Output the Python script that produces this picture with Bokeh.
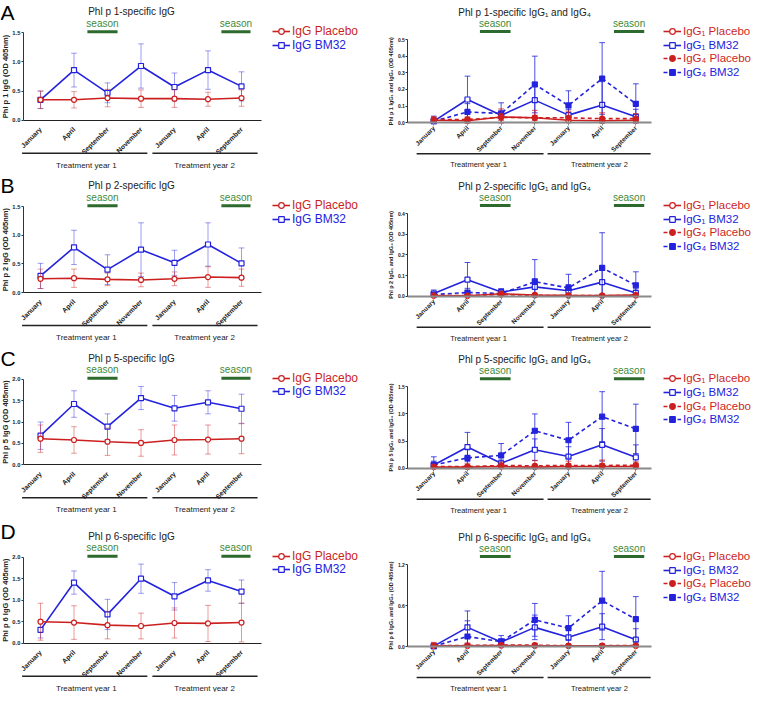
import math
from bokeh.plotting import figure
from bokeh.models import (ColumnDataSource, Label, Legend, LegendItem,
                          FixedTicker, Range1d, NumeralTickFormatter)
from bokeh.layouts import column, row
from bokeh.embed import file_html
from bokeh.resources import INLINE

# ---------------- data ----------------
months = ["January", "April", "September", "November", "January", "April", "September"]
x_idx = [0, 1, 2, 3, 4, 5, 6]
years = ["Treatment year 1", "Treatment year 2"]
letters = ["A", "B", "C", "D"]
allergens = ["Phl p 1", "Phl p 2", "Phl p 5", "Phl p 6"]

# IgG (left column): mean and SD
A_igg_bm32 = [0.35, 0.86, 0.47, 0.93, 0.57, 0.86, 0.58]
A_igg_bm32_sd = [0.15, 0.29, 0.17, 0.38, 0.24, 0.33, 0.25]
A_igg_pla = [0.35, 0.35, 0.38, 0.37, 0.37, 0.36, 0.38]
A_igg_pla_sd = [0.15, 0.14, 0.15, 0.15, 0.15, 0.12, 0.14]

B_igg_bm32 = [0.29, 0.79, 0.40, 0.75, 0.52, 0.84, 0.51]
B_igg_bm32_sd = [0.22, 0.30, 0.26, 0.47, 0.22, 0.38, 0.27]
B_igg_pla = [0.24, 0.25, 0.23, 0.22, 0.24, 0.27, 0.26]
B_igg_pla_sd = [0.17, 0.16, 0.11, 0.12, 0.12, 0.18, 0.15]

C_igg_bm32 = [0.68, 1.42, 0.89, 1.56, 1.32, 1.46, 1.31]
C_igg_bm32_sd = [0.32, 0.31, 0.30, 0.27, 0.30, 0.27, 0.34]
C_igg_pla = [0.61, 0.58, 0.54, 0.51, 0.58, 0.59, 0.61]
C_igg_pla_sd = [0.32, 0.31, 0.32, 0.31, 0.35, 0.34, 0.35]

D_igg_bm32 = [0.31, 1.41, 0.67, 1.50, 1.09, 1.46, 1.20]
D_igg_bm32_sd = [0.19, 0.27, 0.35, 0.34, 0.32, 0.25, 0.27]
D_igg_pla = [0.50, 0.48, 0.42, 0.40, 0.47, 0.46, 0.48]
D_igg_pla_sd = [0.43, 0.39, 0.32, 0.30, 0.35, 0.42, 0.45]

# IgG1 / IgG4 (right column): mean and SD
A_g1_pla = [0.015, 0.012, 0.035, 0.030, 0.015, 0.012, 0.015]
A_g1_pla_sd = [0.012, 0.015, 0.020, 0.015, 0.012, 0.012, 0.012]
A_g1_bm32 = [0.010, 0.140, 0.045, 0.136, 0.046, 0.107, 0.036]
A_g1_bm32_sd = [0.030, 0.140, 0.020, 0.108, 0.035, 0.140, 0.045]
A_g4_pla = [0.020, 0.020, 0.033, 0.030, 0.030, 0.025, 0.025]
A_g4_pla_sd = [0.015, 0.015, 0.050, 0.045, 0.040, 0.035, 0.030]
A_g4_bm32 = [0.010, 0.065, 0.056, 0.230, 0.104, 0.266, 0.114]
A_g4_bm32_sd = [0.020, 0.050, 0.064, 0.170, 0.088, 0.215, 0.120]

B_g1_pla = [0.003, 0.002, 0.012, 0.006, 0.004, 0.003, 0.005]
B_g1_pla_sd = [0.003, 0.002, 0.006, 0.004, 0.003, 0.002, 0.003]
B_g1_bm32 = [0.013, 0.080, 0.020, 0.045, 0.026, 0.068, 0.016]
B_g1_bm32_sd = [0.017, 0.083, 0.017, 0.040, 0.030, 0.060, 0.020]
B_g4_pla = [0.003, 0.003, 0.008, 0.004, 0.003, 0.003, 0.004]
B_g4_pla_sd = [0.002, 0.002, 0.005, 0.003, 0.002, 0.002, 0.003]
B_g4_bm32 = [0.008, 0.018, 0.013, 0.070, 0.040, 0.137, 0.053]
B_g4_bm32_sd = [0.010, 0.020, 0.012, 0.107, 0.066, 0.170, 0.065]

C_g1_pla = [0.02, 0.02, 0.03, 0.02, 0.03, 0.03, 0.03]
C_g1_pla_sd = [0.03, 0.03, 0.04, 0.05, 0.05, 0.05, 0.05]
C_g1_bm32 = [0.06, 0.39, 0.09, 0.34, 0.215, 0.43, 0.20]
C_g1_bm32_sd = [0.07, 0.27, 0.06, 0.20, 0.18, 0.30, 0.23]
C_g4_pla = [0.03, 0.03, 0.05, 0.045, 0.05, 0.05, 0.055]
C_g4_pla_sd = [0.04, 0.05, 0.06, 0.10, 0.08, 0.10, 0.06]
C_g4_bm32 = [0.06, 0.19, 0.235, 0.69, 0.515, 0.95, 0.725]
C_g4_bm32_sd = [0.15, 0.16, 0.22, 0.31, 0.33, 0.46, 0.455]

D_g1_pla = [0.010, 0.010, 0.015, 0.012, 0.010, 0.010, 0.010]
D_g1_pla_sd = [0.05, 0.04, 0.03, 0.03, 0.02, 0.02, 0.02]
D_g1_bm32 = [0.005, 0.28, 0.065, 0.28, 0.135, 0.29, 0.10]
D_g1_bm32_sd = [0.01, 0.24, 0.05, 0.18, 0.13, 0.19, 0.16]
D_g4_pla = [0.015, 0.015, 0.020, 0.020, 0.012, 0.012, 0.015]
D_g4_pla_sd = [0.010, 0.010, 0.010, 0.010, 0.008, 0.008, 0.010]
D_g4_bm32 = [0.005, 0.146, 0.07, 0.39, 0.27, 0.67, 0.40]
D_g4_bm32_sd = [0.01, 0.23, 0.09, 0.24, 0.18, 0.43, 0.33]

left_ymax = [1.5, 1.5, 2.0, 2.0]
left_ticks = [[0, 0.5, 1.0, 1.5], [0, 0.5, 1.0, 1.5], [0, 0.5, 1.0, 1.5, 2.0], [0, 0.5, 1.0, 1.5, 2.0]]
right_ymax = [0.5, 0.4, 1.5, 1.2]
right_ticks = [[0, 0.1, 0.2, 0.3, 0.4, 0.5], [0, 0.1, 0.2, 0.3, 0.4], [0, 0.5, 1.0, 1.5], [0, 0.6, 1.2]]

left_data = [
    (A_igg_pla, A_igg_pla_sd, A_igg_bm32, A_igg_bm32_sd),
    (B_igg_pla, B_igg_pla_sd, B_igg_bm32, B_igg_bm32_sd),
    (C_igg_pla, C_igg_pla_sd, C_igg_bm32, C_igg_bm32_sd),
    (D_igg_pla, D_igg_pla_sd, D_igg_bm32, D_igg_bm32_sd),
]
right_data = [
    (A_g1_pla, A_g1_pla_sd, A_g1_bm32, A_g1_bm32_sd, A_g4_pla, A_g4_pla_sd, A_g4_bm32, A_g4_bm32_sd),
    (B_g1_pla, B_g1_pla_sd, B_g1_bm32, B_g1_bm32_sd, B_g4_pla, B_g4_pla_sd, B_g4_bm32, B_g4_bm32_sd),
    (C_g1_pla, C_g1_pla_sd, C_g1_bm32, C_g1_bm32_sd, C_g4_pla, C_g4_pla_sd, C_g4_bm32, C_g4_bm32_sd),
    (D_g1_pla, D_g1_pla_sd, D_g1_bm32, D_g1_bm32_sd, D_g4_pla, D_g4_pla_sd, D_g4_bm32, D_g4_bm32_sd),
]

# ---------------- style / layout (pixels inside each figure) ----------------
RED = "#cc1f1f"
BLUE = "#2323dd"
GREEN_TXT = "#3f8a3a"
GREEN_BAR = "#2d6a2d"
DARK = "#222222"
FONT = "Liberation Sans"
ROW_H = [173, 173, 173, 173]
W = 376
LETTER_TOP = [0, 0, 0, 0]

LEFT = dict(x0px=40, ppx=33.5, axis_x=-0.51, axis_end=6.6,
            tops=[32.3, 33.3, 32.7, 37.7], bottoms=[119.7, 119.0, 118.3, 123.7],
            season=[(1.40, 2.30), (5.40, 6.27)], season_bar=1.0, season_txt=9.5,
            title_px=(131, 21), title_size="10px",
            years=[(-0.55, 3.19), (3.34, 6.48)], year_x=[1.37, 4.9], year_line=33, year_txt=45,
            year_size="8px", leg_x=272, leg_row1=1.0, leg_font="12px", cap=0.085, ebar_alpha=0.45,
            ylab_x=5, ylab_size="7.5px", ytick_size="5.8px", mon_size="6.8px")
RIGHT = dict(x0px=57.3, ppx=33.67, axis_x=-0.77, axis_end=6.47,
             tops=[39.0, 40.0, 40.3, 45.0], bottoms=[122.3, 122.7, 121.7, 127.0],
             season=[(1.37, 2.28), (5.35, 6.25)], season_bar=8.0, season_txt=16,
             title_px=(148, 27.5), title_size="10px",
             years=[(-0.51, 3.26), (3.38, 6.44)], year_x=[1.33, 4.92], year_line=31, year_txt=42,
             year_size="7.5px", leg_x=287, leg_row1=8.0, leg_font="11.5px", cap=0.085, ebar_alpha=0.8,
             ylab_x=14, ylab_size="5.5px", ytick_size="5px", mon_size="6.5px")


def add_series(p, mean, sd, color, marker, dash, filled, cfg):
    lo = [max(0.0, m - s) for m, s in zip(mean, sd)]
    hi = [m + s for m, s in zip(mean, sd)]
    c = cfg["cap"]
    src = ColumnDataSource(dict(x=x_idx, y=mean, lo=lo, hi=hi,
                                xl=[x - c for x in x_idx], xr=[x + c for x in x_idx]))
    a = cfg["ebar_alpha"]
    p.segment(x0="x", y0="lo", x1="x", y1="hi", source=src, line_color=color, line_alpha=a, line_width=1)
    p.segment(x0="xl", y0="hi", x1="xr", y1="hi", source=src, line_color=color, line_alpha=a, line_width=1)
    p.segment(x0="xl", y0="lo", x1="xr", y1="lo", source=src, line_color=color, line_alpha=a, line_width=1)
    ln = p.line("x", "y", source=src, line_color=color, line_width=1.6, line_dash=dash)
    sc = p.scatter("x", "y", source=src, marker=marker, size=5, line_color=color,
                   fill_color=color if filled else "white", line_width=1.2)
    return ln, sc


def make_panel(k, cfg, is_left):
    H = ROW_H[k]
    ymax = left_ymax[k] if is_left else right_ymax[k]
    top, bot = cfg["tops"][k], cfg["bottoms"][k]
    ppx = cfg["ppx"]
    ppy = (bot - top) / ymax
    xs = -cfg["x0px"] / ppx
    xe = xs + W / ppx
    ye = ymax + top / ppy
    ys = ye - H / ppy

    def fx(px):
        return xs + px / ppx

    def fy(py):
        return ye - py / ppy

    p = figure(width=W, height=H, x_range=Range1d(xs, xe), y_range=Range1d(ys, ye),
               output_backend="svg", toolbar_location=None,
               background_fill_color="white", border_fill_color="white")
    p.min_border = 0
    p.min_border_left = 0
    p.min_border_right = 0
    p.min_border_top = 0
    p.min_border_bottom = 0
    p.outline_line_color = None
    p.grid.visible = False

    # x axis at y = 0
    xa = p.xaxis[0]
    xa.fixed_location = 0
    xa.bounds = (cfg["axis_x"], cfg["axis_end"])
    xa.ticker = FixedTicker(ticks=x_idx)
    xa.major_label_overrides = {i: m for i, m in enumerate(months)}
    xa.major_label_orientation = math.pi / 4
    xa.major_label_text_font = FONT
    xa.major_label_text_font_size = cfg["mon_size"]
    xa.major_label_text_font_style = "bold"
    xa.major_label_text_color = DARK
    xa.minor_tick_line_color = None
    if is_left:
        xa.axis_line_color = DARK
        xa.axis_line_width = 1
        xa.major_tick_line_color = None
        xa.major_label_standoff = 2
    else:
        xa.axis_line_color = "#8a8a8a"
        xa.axis_line_width = 2
        xa.major_tick_line_color = "#8a8a8a"
        xa.major_tick_out = 3
        xa.major_tick_in = 0
        xa.major_label_standoff = 1

    # y axis at the left end of the x axis
    ya = p.yaxis[0]
    ya.fixed_location = cfg["axis_x"]
    ya.bounds = (0, ymax)
    ya.ticker = FixedTicker(ticks=left_ticks[k] if is_left else right_ticks[k])
    ya.formatter = NumeralTickFormatter(format="0.0")
    ya.major_label_text_font = FONT
    ya.major_label_text_font_size = cfg["ytick_size"]
    ya.major_label_text_font_style = "bold"
    ya.major_label_text_color = DARK
    ya.major_label_standoff = 1
    ya.major_tick_out = 2
    ya.major_tick_in = 0
    ya.minor_tick_line_color = None
    ya.axis_line_color = "#333333"
    ya.major_tick_line_color = "#333333"

    if is_left:
        ylab = f"{allergens[k]} IgG (OD 405nm)"
    else:
        ylab = f"{allergens[k]} IgG\u2081 and IgG\u2084 (OD 405nm)"
    p.add_layout(Label(x=fx(cfg["ylab_x"]), y=ymax / 2, text=ylab, angle=math.pi / 2,
                       text_align="center", text_baseline="middle", text_font=FONT,
                       text_font_size=cfg["ylab_size"], text_font_style="bold", text_color=DARK))

    # data
    if is_left:
        pla, pla_sd, bm, bm_sd = left_data[k]
        lb = add_series(p, bm, bm_sd, BLUE, "square", "solid", False, cfg)
        lp = add_series(p, pla, pla_sd, RED, "circle", "solid", False, cfg)
        items = [("IgG Placebo", lp, RED), ("IgG BM32", lb, BLUE)]
    else:
        g1p, g1p_sd, g1b, g1b_sd, g4p, g4p_sd, g4b, g4b_sd = right_data[k]
        r_g1b = add_series(p, g1b, g1b_sd, BLUE, "square", "solid", False, cfg)
        r_g4b = add_series(p, g4b, g4b_sd, BLUE, "square", "4 3", True, cfg)
        r_g1p = add_series(p, g1p, g1p_sd, RED, "circle", "solid", False, cfg)
        r_g4p = add_series(p, g4p, g4p_sd, RED, "circle", "4 3", True, cfg)
        items = [("IgG\u2081 Placebo", r_g1p, RED), ("IgG\u2081 BM32", r_g1b, BLUE),
                 ("IgG\u2084 Placebo", r_g4p, RED), ("IgG\u2084 BM32", r_g4b, BLUE)]

    # legends (one per entry so each label keeps its own colour)
    pitch = 13.7
    for i, (lab, rends, col) in enumerate(items):
        center_py = top - cfg["leg_row1"] + i * pitch
        vy = H - (center_py + 7)
        leg = Legend(items=[LegendItem(label=lab, renderers=list(rends))],
                     location=(cfg["leg_x"], vy), padding=0, margin=0, spacing=0,
                     border_line_alpha=0, background_fill_alpha=0,
                     glyph_width=18, glyph_height=14, label_height=14, label_standoff=2,
                     label_text_font=FONT, label_text_font_size=cfg["leg_font"],
                     label_text_color=col, label_text_baseline="middle")
        p.add_layout(leg)

    # panel title
    if is_left:
        ttl = f"{allergens[k]}-specific IgG"
    else:
        ttl = f"{allergens[k]}-specific IgG\u2081 and IgG\u2084"
    tpx, tdy = cfg["title_px"]
    p.add_layout(Label(x=fx(tpx), y=fy(top - tdy), text=ttl,
                       text_align="center", text_baseline="middle", text_font=FONT,
                       text_font_size=cfg["title_size"], text_color=DARK))

    # pollen season markers
    s_x0 = [s[0] for s in cfg["season"]]
    s_x1 = [s[1] for s in cfg["season"]]
    s_y = [fy(top - cfg["season_bar"])] * len(s_x0)
    p.segment(x0=s_x0, x1=s_x1, y0=s_y, y1=s_y, line_color=GREEN_BAR, line_width=3)
    for (a0, a1) in cfg["season"]:
        p.add_layout(Label(x=(a0 + a1) / 2, y=fy(top - cfg["season_txt"]), text="season",
                           text_align="center", text_baseline="middle", text_font=FONT,
                           text_font_size="10px", text_color=GREEN_TXT))

    # treatment-year brackets
    t_x0 = [t[0] for t in cfg["years"]]
    t_x1 = [t[1] for t in cfg["years"]]
    t_y = [fy(bot + cfg["year_line"])] * len(t_x0)
    p.segment(x0=t_x0, x1=t_x1, y0=t_y, y1=t_y, line_color=DARK, line_width=1.4)
    for tx, tname in zip(cfg["year_x"], years):
        p.add_layout(Label(x=tx, y=fy(bot + cfg["year_txt"]), text=tname,
                           text_align="center", text_baseline="middle", text_font=FONT,
                           text_font_size=cfg["year_size"], text_color=DARK))

    # panel letter
    if is_left:
        p.add_layout(Label(x=fx(0), y=fy(LETTER_TOP[k]), text=letters[k],
                           text_align="left", text_baseline="top", text_font=FONT,
                           text_font_size="21px", text_color="black"))
    return p


rows = []
for k in range(4):
    rows.append(row(make_panel(k, LEFT, True), make_panel(k, RIGHT, False)))
layout = column(*rows)

open("out.html", "w").write(file_html(layout, INLINE))
